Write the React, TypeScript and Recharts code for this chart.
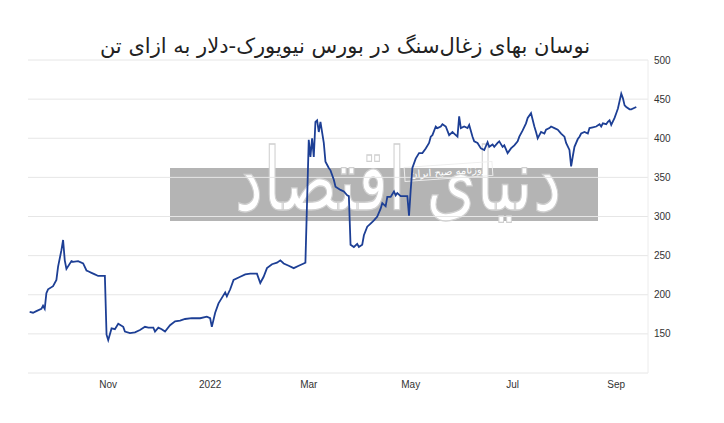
import { CartesianGrid, Line, LineChart, ReferenceLine, XAxis, YAxis } from "recharts";

// coal price, NY exchange, USD per tonne
const START_DATE = "2021-09-15";

const dayOffsets = [
  0, 2, 4, 7, 8, 9, 10, 11, 14, 16, 17, 19, 20, 21, 22, 25, 26, 29, 32, 34, 35, 37, 39, 41, 45,
  46, 47, 49, 51, 53, 56, 57, 60, 63, 66, 69, 71, 74, 75, 77, 79, 81, 84, 87, 90, 93, 97, 102, 106,
  108, 109, 111, 113, 115, 117, 118, 120, 122, 126, 129, 132, 136, 138, 140, 142, 145, 148, 150, 152,
  155, 158, 161, 164, 165, 167, 168, 169, 170, 171, 172, 173, 174, 176, 177, 179, 180, 182, 183, 186,
  188, 190, 191, 192, 194, 196, 197, 199, 200, 202, 204, 206, 208, 210, 211, 213, 214, 216, 218, 219,
  220, 222, 224, 226, 227, 228, 229, 231, 233, 235, 237, 239, 240, 241, 243, 244, 246, 247, 249, 251,
  253, 254, 256, 257, 258, 260, 262, 263, 265, 266, 268, 270, 272, 274, 275, 277, 278, 280, 281, 283,
  284, 286, 288, 290, 292, 293, 295, 297, 298, 300, 302, 303, 304, 305, 306, 308, 309, 311, 312, 314,
  316, 318, 320, 321, 323, 324, 325, 326, 328, 329, 330, 332, 334, 335, 337, 339, 341, 342, 343, 345,
  346, 347, 348, 350, 351, 352, 354, 355, 356, 357, 359, 360, 362, 363,
];

const prices = [
  178, 177, 179, 182, 186, 182, 202, 207, 211, 219, 236, 257, 270, 244, 233, 243, 242, 243, 240, 231, 230, 228, 226, 224, 224,
  149, 142, 157, 156, 163, 159, 153, 151, 152, 155, 159, 158, 158, 153, 158, 156, 153, 161, 166, 167, 169, 170, 170, 172,
  170, 159, 177, 189, 196, 203, 198, 207, 219, 223, 226, 227, 227, 215, 223, 234, 239, 241, 244, 240,
  237, 234, 237, 240, 241, 398, 376, 400, 376, 421, 423, 408, 421, 394, 370, 362, 359, 347, 338, 334,
  332, 327, 326, 264, 261, 265, 261, 264, 276, 287, 291, 295, 300, 310, 317, 313, 325, 325, 332, 327,
  330, 326, 326, 326, 301, 334, 362, 374, 381, 381, 387, 394, 402, 404, 415, 413, 415, 418, 415, 404,
  408, 406, 402, 428, 413, 415, 413, 417, 402, 396, 394, 387, 385, 395, 389, 392, 389, 394, 396, 389,
  391, 381, 387, 391, 396, 402, 410, 419, 426, 432, 415, 408, 400, 404, 408, 406, 411, 413, 415, 413,
  411, 406, 402, 394, 385, 364, 377, 389, 399, 402, 406, 408, 406, 413, 414, 415, 418, 415, 419, 418,
  421, 423, 417, 426, 432, 438, 457, 451, 442, 440, 437, 437, 439, 440,
];

const tickDates = ["2021-11-01", "2022-01-01", "2022-03-01", "2022-05-01", "2022-07-01", "2022-09-01"];
const tickLabels = ["Nov", "2022", "Mar", "May", "Jul", "Sep"];
const yTicks = [100, 150, 200, 250, 300, 350, 400, 450, 500];

const DAY = 24 * 60 * 60 * 1000;
const daysFromStart = (s: string) => Math.round((Date.parse(s) - Date.parse(START_DATE)) / DAY);

const data = dayOffsets.map((d, i) => ({ day: d, price: prices[i] }));
const xTicks = tickDates.map(daysFromStart);
const labelFor = (v: number) => tickLabels[xTicks.indexOf(v)] ?? "";

const font = "'Liberation Sans', Arial, sans-serif";

export default function App() {
  return (
    <div style={{ position: "absolute", left: 0, top: 0, width: 724, height: 423, background: "#fff", overflow: "hidden" }}>
      {/* watermark, sits under the chart */}
      <div style={{ position: "absolute", left: 170, top: 168, width: 428, height: 53, background: "#b4b4b4" }} />
      <div
        style={{
          position: "absolute",
          left: 196,
          top: 148,
          width: 404,
          textAlign: "center",
          direction: "rtl",
          fontFamily: "'DejaVu Sans', sans-serif",
          fontSize: 64,
          lineHeight: "64px",
          color: "#fff",
          WebkitTextStroke: "1px #d0d0d0",
          whiteSpace: "nowrap",
          transform: "scaleY(1.35)",
        }}
      >
        دنیای اقتصاد
      </div>
      <div
        style={{
          position: "absolute",
          left: 404,
          top: 164,
          padding: "1px 5px",
          border: "1px solid #eee",
          color: "#fff",
          fontFamily: "'DejaVu Sans', sans-serif",
          fontSize: 10,
          direction: "rtl",
          transform: "rotate(-4deg)",
          whiteSpace: "nowrap",
        }}
      >
        روزنامه صبح ایران
      </div>

      <div style={{ position: "absolute", left: 0, top: 0 }}>
        <LineChart width={724} height={423} data={data} margin={{ top: 60, right: 0, bottom: 20, left: 28 }}>
          <CartesianGrid stroke="#e6e6e6" horizontalValues={yTicks} vertical={false} />
          <ReferenceLine x={370} stroke="#ececec" />
          <XAxis
            dataKey="day"
            type="number"
            domain={[-1, 370]}
            ticks={xTicks}
            tickFormatter={labelFor}
            axisLine={false}
            tickLine={false}
            height={30}
            tick={{ fill: "#333", fontSize: 10, fontFamily: font }}
          />
          <YAxis
            orientation="right"
            domain={[100, 500]}
            ticks={yTicks}
            tickFormatter={(v: number) => (v === 100 ? "" : `${v}`)}
            axisLine={false}
            tickLine={false}
            tickMargin={0}
            width={76}
            tick={{ fill: "#333", fontSize: 10, fontFamily: font, textAnchor: "start" }}
          />
          <Line
            type="linear"
            dataKey="price"
            stroke="#1d3f95"
            strokeWidth={1.8}
            dot={false}
            isAnimationActive={false}
          />
        </LineChart>
      </div>

      <div
        style={{
          position: "absolute",
          left: 60,
          top: 34,
          width: 570,
          textAlign: "center",
          direction: "rtl",
          fontFamily: "'DejaVu Sans', sans-serif",
          fontSize: 21,
          color: "#222",
          whiteSpace: "nowrap",
        }}
      >
        نوسان بهای زغال‌سنگ در بورس نیویورک-دلار به ازای تن
      </div>
    </div>
  );
}
